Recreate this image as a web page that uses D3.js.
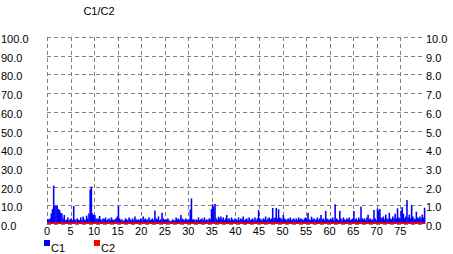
<!DOCTYPE html>
<html>
<head>
<meta charset="utf-8">
<script src="https://cdn.jsdelivr.net/npm/d3@7"></script>
<style>
  body { margin: 0; background: #fff; }
  text { font-family: "Liberation Sans", Arial, sans-serif; fill: #000; }
</style>
</head>
<body>
<div id="chart"></div>
<script>
// chart values
const title = 'C1/C2';
const seriesNames = ['C1', 'C2'];
const xTicks = [0, 5, 10, 15, 20, 25, 30, 35, 40, 45, 50, 55, 60, 65, 70, 75];
const leftTicks = [0, 10, 20, 30, 40, 50, 60, 70, 80, 90, 100];
const rightTicks = [0, 1, 2, 3, 4, 5, 6, 7, 8, 9, 10];
const xMax = 80.25;
const sampleStep = 0.25;

// C1 (left axis), one value every 0.25 on x
const c1Values = [
  2.7, 2.5, 3, 5.7,  8, 20.5, 9.5, 10,  9.5, 8, 7.5, 6,  5.7, 3, 4.8, 2,  2.3, 3.5, 2, 2.5,
  3, 2, 9.6, 2.5,  2, 3, 2.3, 2,  3.5, 2, 4, 2.5,  2, 4.5, 3, 5.7,  18.5, 20, 5.7, 4.8,
  4.8, 3, 2.5, 3,  4.3, 2.5, 2, 3,  2.5, 3.5, 2, 2.5,  3, 2, 3.5, 2.5,  2, 2.5, 3, 4,
  9.6, 3, 2, 2.5,  1.5, 2, 3, 2.5,  2, 3.5, 2.5, 2,  3, 2, 4, 2.5,  2, 2.5, 2, 3,
  2, 4, 2.5, 3,  2, 2.5, 3.5, 2,  2.5, 3, 2, 7.2,  3, 2.5, 4, 2,  2.5, 6, 3, 2.5,
  2, 2.5, 3, 2,  1.5, 1.5, 2.5, 2,  2, 3.5, 2.5, 3,  2, 4.8, 3, 2.5,  2, 3, 2.5, 2,
  2.5, 7.7, 13.7, 2.5,  2.5, 2, 2.5, 2,  3.5, 2, 2.5, 3,  2, 3.5, 2, 2.5,  2, 3, 2.5, 8,
  10.5, 9.3, 10.7, 3,  2, 3.9, 3, 4,  2.5, 3.5, 2, 3,  4.8, 2.5, 3, 2,  3.5, 2.5, 2, 3,
  2.5, 2, 3.5, 2,  3, 2.5, 4, 2,  2.5, 3, 2, 3.5,  2, 2.5, 3, 2,  3.5, 2, 3, 7.5,
  3, 2.5, 2, 3,  2.5, 4, 2, 3,  3.5, 2.5, 3, 8.6,  3, 3.5, 8.6, 3,  7.9, 3.5, 3, 2.5,
  4.8, 3, 2.5, 2,  3, 2.5, 3.5, 2,  2.5, 3, 2, 3,  2, 3.5, 2.5, 3,  2.5, 2, 3, 3.5,
  3, 6, 2.5, 2,  3.9, 2.5, 3, 2,  2.5, 3.5, 2, 3,  4.8, 2.5, 3, 2,  7, 3, 2.5, 2,
  3, 2.5, 3.5, 2,  10.5, 3, 2.5, 2,  7, 3, 2, 3.5,  2.5, 2, 3, 2.5,  3.5, 2, 2.5, 3,
  7, 2.5, 3, 2,  3.5, 2.5, 9.3, 3,  2.5, 3, 2, 3.5,  5, 2.5, 3, 2,  2.5, 7.5, 3, 2,
  8.3, 7.2, 8, 3.5,  3, 4, 2.5, 5,  3, 2.5, 6, 3,  2.5, 4, 3, 5.5,  3, 8.4, 3.5, 3,
  7.2, 9, 5.5, 3,  4, 12.8, 3.5, 5,  3, 10.1, 4, 3,  2.5, 6.6, 3.5, 3,  4, 3, 5, 3.5,
  8.7
];

// C2 (right axis), flat along the bottom
const c2X = [0, 20, 40, 60, 80.25];
const c2Values = [0.1, 0.1, 0.1, 0.1, 0.1];

const colors = ['#0000ff', '#ff0000'];

const width = 453, height = 254;
const plotLeft = 47, plotRight = 425, plotTop = 37, plotBottom = 224;

const svg = d3.select('#chart').append('svg')
    .attr('width', width)
    .attr('height', height);

const x = d3.scaleLinear().domain([0, xMax]).range([plotLeft, plotRight]);
const y = d3.scaleLinear().domain([0, 100]).range([plotBottom, plotTop]);
const yR = d3.scaleLinear().domain([0, 10]).range([plotBottom, plotTop]);
const fmt = d3.format('.1f');

//title
svg.append('text')
    .attr('x', 99)
    .attr('y', 15)
    .attr('text-anchor', 'middle')
    .attr('font-size', 11)
    .text(title);

//dashed grid
const grid = svg.append('g')
    .attr('stroke', '#808080')
    .attr('stroke-width', 1)
    .attr('stroke-dasharray', '4,3')
    .attr('shape-rendering', 'crispEdges');

grid.selectAll('line.h')
    .data(leftTicks)
    .enter().append('line')
    .attr('class', 'h')
    .attr('x1', plotLeft).attr('x2', plotRight)
    .attr('y1', d => Math.round(y(d)) + 0.5)
    .attr('y2', d => Math.round(y(d)) + 0.5);

grid.selectAll('line.v')
    .data(xTicks)
    .enter().append('line')
    .attr('class', 'v')
    .attr('y1', plotTop).attr('y2', plotBottom)
    .attr('x1', d => Math.round(x(d)) + 0.5)
    .attr('x2', d => Math.round(x(d)) + 0.5);

//left axis labels
svg.append('g').selectAll('text')
    .data(leftTicks)
    .enter().append('text')
    .attr('x', 1)
    .attr('y', d => y(d) + 6)
    .attr('font-size', 11)
    .text(d => fmt(d));

//right axis labels
svg.append('g').selectAll('text')
    .data(rightTicks)
    .enter().append('text')
    .attr('x', plotRight + 1)
    .attr('y', d => yR(d) + 6)
    .attr('font-size', 11)
    .text(d => fmt(d));

//x labels
svg.append('g').selectAll('text')
    .data(xTicks)
    .enter().append('text')
    .attr('x', d => x(d))
    .attr('y', 235)
    .attr('text-anchor', 'middle')
    .attr('font-size', 11)
    .text(d => d);

//C1 bars
const barW = x(sampleStep) - x(0);
svg.append('g').selectAll('rect')
    .data(c1Values)
    .enter().append('rect')
    .attr('x', (d, i) => x(i * sampleStep))
    .attr('width', barW + 0.4)
    .attr('y', d => y(d))
    .attr('height', d => y(0) - y(d))
    .attr('fill', colors[0]);

//C2 along the bottom
const c2 = c2X.map((v, i) => ({x: v, v: c2Values[i]}));
svg.append('path')
    .datum(c2)
    .attr('fill', colors[1])
    .attr('d', d3.area()
        .x(d => x(d.x))
        .y0(yR(0))
        .y1(d => yR(d.v)));

//legend
const legend = svg.append('g').selectAll('g')
    .data(seriesNames)
    .enter().append('g')
    .attr('transform', (d, i) => `translate(${44 + i * 50},0)`);

legend.append('rect')
    .attr('x', 0).attr('y', 240)
    .attr('width', 6).attr('height', 6)
    .attr('fill', (d, i) => colors[i]);

legend.append('text')
    .attr('x', 7)
    .attr('y', 251.5)
    .attr('font-size', 11)
    .text(d => d);
</script>
</body>
</html>
